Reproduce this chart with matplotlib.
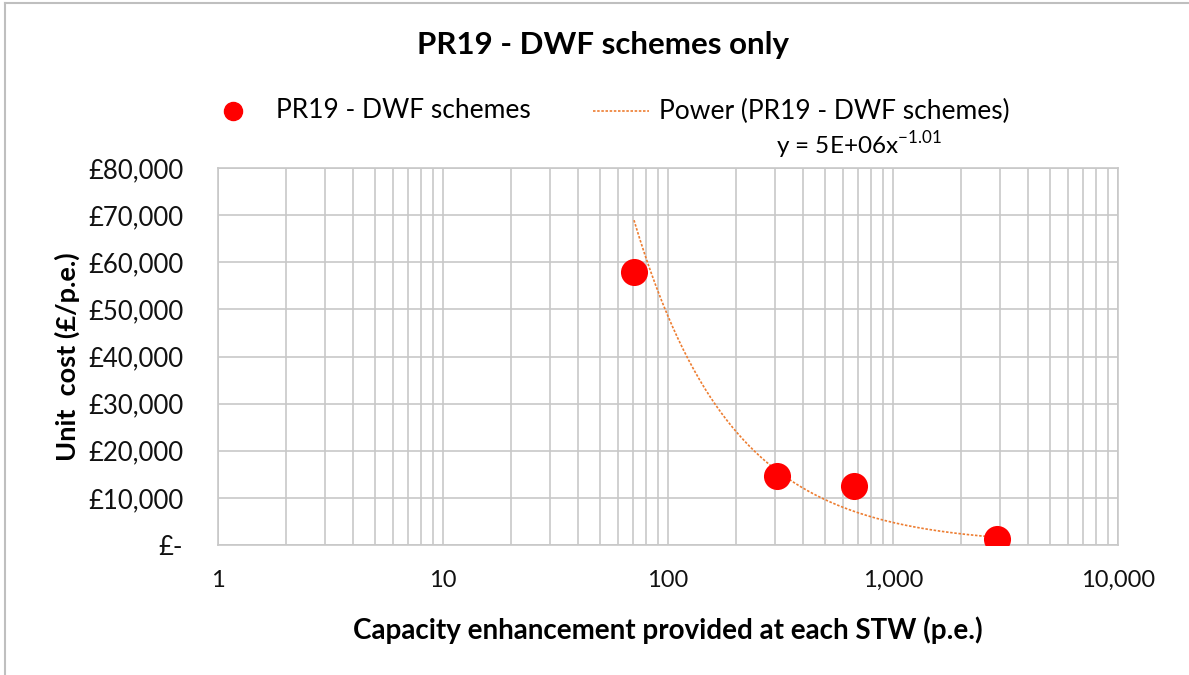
import matplotlib
matplotlib.use("Agg")
import matplotlib.pyplot as plt
import matplotlib.ticker as mticker
from matplotlib.lines import Line2D
import numpy as np

plt.rcParams['font.family'] = ['Lato', 'DejaVu Sans']

# PR19 DWF schemes
capacity = [70.6, 305, 669, 2910]       # p.e.
unit_cost = [58000, 14600, 12500, 1200]  # £/p.e.

y_ticks = [0, 10000, 20000, 30000, 40000, 50000, 60000, 70000, 80000]
x_ticks = [1, 10, 100, 1000, 10000]

# power trendline, same as Excel: fit in log-log space
b, log_a = np.polyfit(np.log(capacity), np.log(unit_cost), 1)
xs = np.logspace(np.log10(min(capacity)), np.log10(max(capacity)), 200)
ys = np.exp(log_a) * xs ** b

fig = plt.figure(figsize=(11.89, 6.75), dpi=100)
ax = fig.add_axes([218 / 1189, 130 / 675, 900 / 1189, 377 / 675])

ax.scatter(capacity, unit_cost, s=380, color='#ff0000', zorder=3, linewidths=0)
ax.plot(xs, ys, linestyle=(0, (1.5, 1)), color='#ed7d31', linewidth=1.2, zorder=2)

ax.set_xscale('log')
ax.set_xlim(1, 10000)
ax.set_ylim(0, 80000)
ax.set_yticks(y_ticks)
ax.set_xticks(x_ticks)
ax.xaxis.set_major_formatter(mticker.FuncFormatter(lambda v, p: f"{v:,.0f}"))
ax.yaxis.set_major_formatter(mticker.FuncFormatter(
    lambda v, p: "£-" if v == 0 else f"£{v:,.0f}"))
ax.xaxis.set_minor_locator(mticker.LogLocator(base=10, subs=np.arange(2, 10)))
ax.xaxis.set_minor_formatter(mticker.NullFormatter())

ax.grid(True, which='both', axis='x', color='#c8c8c8', linewidth=1.2)
ax.grid(True, which='major', axis='y', color='#c8c8c8', linewidth=1.2)
ax.set_axisbelow(True)
for s in ax.spines.values():
    s.set_color('#c8c8c8')
    s.set_linewidth(1.2)
ax.tick_params(which='both', length=0, labelsize=17, colors='#111111')
ax.tick_params(axis='y', labelsize=18.5, pad=25)
ax.tick_params(axis='x', pad=18)

ax.set_xlabel('Capacity enhancement provided at each STW (p.e.)', fontsize=20,
              fontweight='bold', labelpad=18)
ax.set_ylabel('Unit  cost (£/p.e.)', fontsize=19.5, fontweight='bold', labelpad=6)

fig.text(0.507, 0.933, 'PR19 - DWF schemes only', ha='center', va='center',
         fontsize=22.5, fontweight='bold')

# legend drawn by hand to match the layout
fig.add_artist(Line2D([233 / 1189], [1 - 111 / 675], marker='o', markersize=13,
                      color='#ff0000', linestyle='none'))
fig.text(276 / 1189, 1 - 111 / 675, 'PR19 - DWF schemes', va='center', fontsize=19)
fig.add_artist(Line2D([593 / 1189, 649 / 1189], [1 - 111 / 675] * 2,
                      linestyle=(0, (1.5, 1)), color='#ed7d31', linewidth=1.2))
fig.text(659 / 1189, 1 - 111 / 675, 'Power (PR19 - DWF schemes)', va='center',
         fontsize=19)
fig.text(776 / 1189, 1 - 145 / 675, r'y = 5E+06x$^{\mathregular{-1.01}}$',
         va='center', fontsize=17.5)

# chart frame (top and left edges visible)
fig.add_artist(Line2D([5 / 1189, 5 / 1189], [0, 1 - 3 / 675], color='#bfbfbf', linewidth=1.5))
fig.add_artist(Line2D([5 / 1189, 1], [1 - 3 / 675] * 2, color='#bfbfbf', linewidth=1.5))

fig.savefig('out.png', dpi=100)
